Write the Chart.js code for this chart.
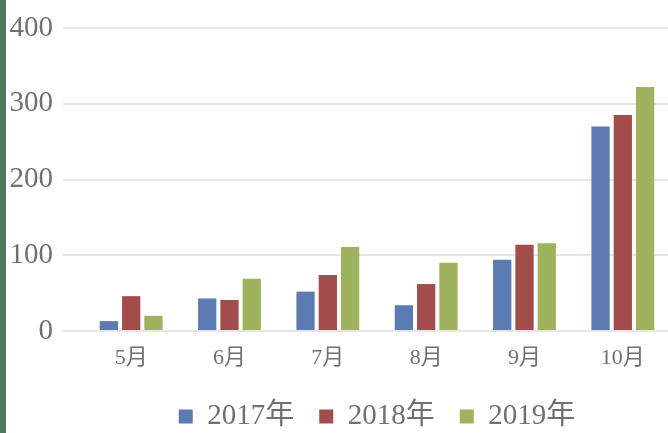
<!DOCTYPE html>
<html>
<head>
<meta charset="utf-8">
<script src="https://cdn.jsdelivr.net/npm/chart.js@4.4.1/dist/chart.umd.min.js"></script>
<style>
  html, body { margin: 0; padding: 0; background: #fff; overflow: hidden; }
  #wrap { position: relative; width: 668px; height: 433px; overflow: hidden; }
  #bar { position: absolute; left: 0; top: 0; width: 6px; height: 433px; background: #4b7a5b; }
</style>
</head>
<body>
<div id="wrap">
  <canvas id="grafico" width="672" height="441"></canvas>
  <div id="bar"></div>
</div>
<script>
// Datos
const meses = ['5月', '6月', '7月', '8月', '9月', '10月'];
const anios = ['2017年', '2018年', '2019年'];
const datos2017 = [13, 43, 52, 34, 94, 270];
const datos2018 = [46, 41, 74, 62, 114, 285];
const datos2019 = [20, 69, 111, 90, 116, 322];
const ticksY = [0, 100, 200, 300, 400];
const colores = ['#5b7bb2', '#a24d4b', '#9fb35e'];

const fuenteSerif = '"Liberation Serif", "Times New Roman", "Noto Sans CJK SC", serif';
const gris = '#707070';

new Chart(document.getElementById('grafico'), {
    type: 'bar',
    data: {
        labels: meses,
        datasets: [datos2017, datos2018, datos2019].map((d, i) => ({
            label: anios[i],
            data: d,
            backgroundColor: colores[i],
            borderWidth: 0,
            categoryPercentage: 0.68,
            barPercentage: 0.82
        }))
    },
    options: {
        responsive: false,
        animation: false,
        layout: { padding: { top: 28, right: 0, left: 0, bottom: 0 } },
        plugins: {
            tooltip: { enabled: false },
            legend: {
                position: 'bottom',
                fullSize: false,
                labels: {
                    boxWidth: 14,
                    boxHeight: 14,
                    padding: 25,
                    color: gris,
                    font: { family: fuenteSerif, size: 29 }
                }
            }
        },
        scales: {
            x: {
                afterFit: s => { s.height = 46; },
                grid: { display: false },
                border: { display: false },
                ticks: {
                    color: gris,
                    padding: 6,
                    font: { family: fuenteSerif, size: 22 }
                }
            },
            y: {
                min: 0,
                max: 400,
                afterFit: s => { s.width = 82; },
                afterBuildTicks: s => { s.ticks = ticksY.map(v => ({ value: v })); },
                border: { display: false },
                grid: {
                    color: '#e6e6e6',
                    lineWidth: 2,
                    drawTicks: true,
                    tickLength: 19,
                    tickColor: '#e6e6e6'
                },
                ticks: {
                    color: gris,
                    padding: 10,
                    font: { family: fuenteSerif, size: 29 }
                }
            }
        }
    }
});
</script>
</body>
</html>
